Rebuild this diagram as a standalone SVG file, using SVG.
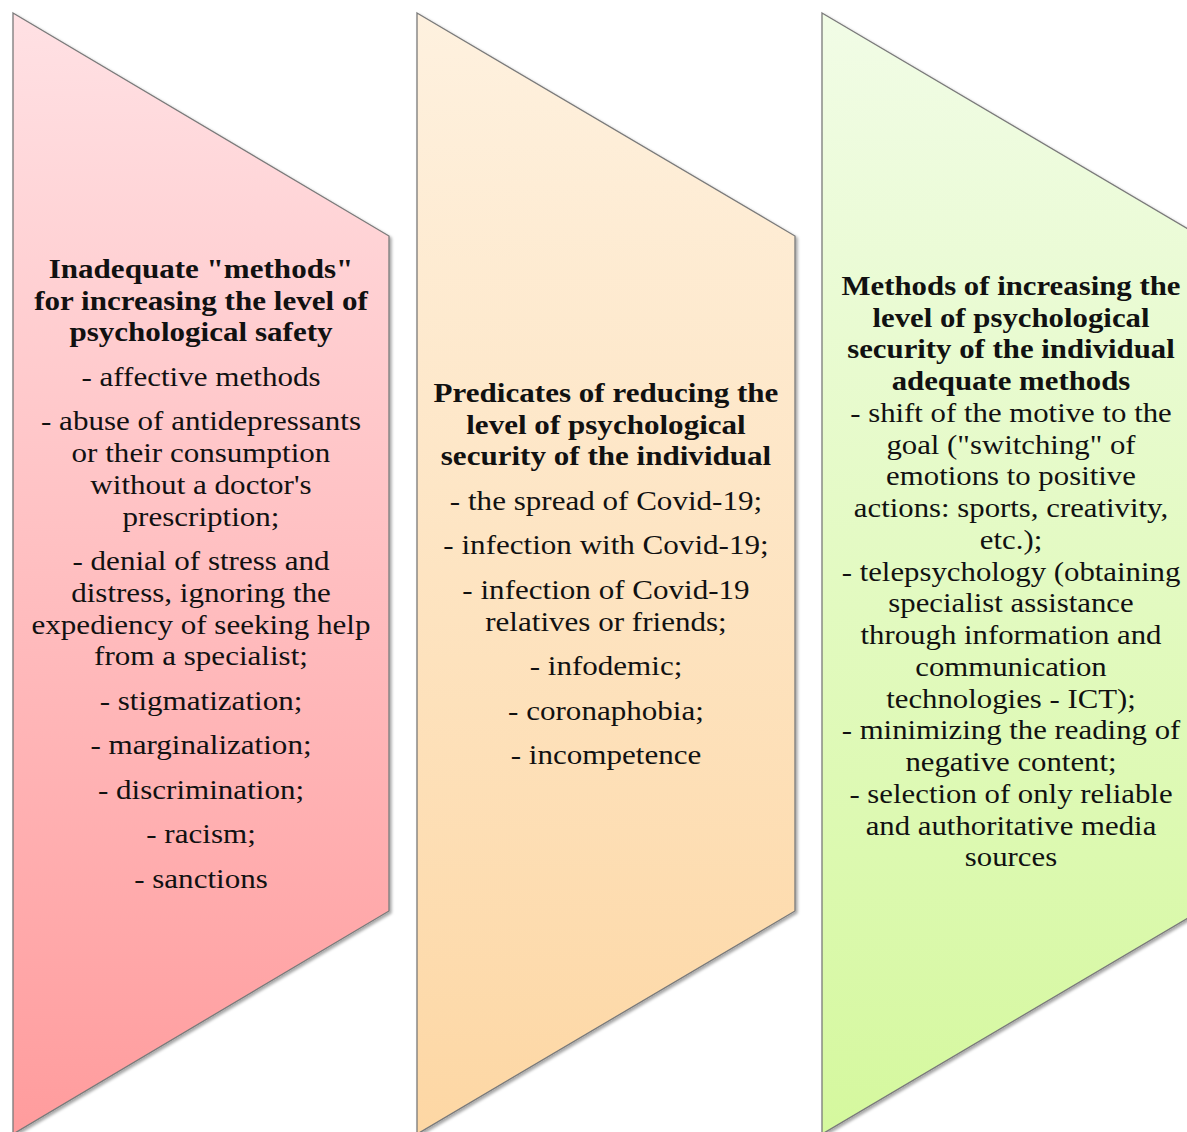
<svg xmlns="http://www.w3.org/2000/svg" width="1187" height="1132" viewBox="0 0 1187 1132">
<defs>
<linearGradient id="gPink" gradientUnits="userSpaceOnUse" x1="0" y1="13" x2="0" y2="1134">
<stop offset="0" stop-color="#FFE1E4"/><stop offset="1" stop-color="#FF9C9D"/>
</linearGradient>
<linearGradient id="gOrange" gradientUnits="userSpaceOnUse" x1="0" y1="13" x2="0" y2="1134">
<stop offset="0" stop-color="#FEF1DF"/><stop offset="1" stop-color="#FDD7A4"/>
</linearGradient>
<linearGradient id="gGreen" gradientUnits="userSpaceOnUse" x1="0" y1="13" x2="0" y2="1134">
<stop offset="0" stop-color="#F1FCE6"/><stop offset="1" stop-color="#D5F89E"/>
</linearGradient>
<filter id="shadow" x="-5%" y="-5%" width="115%" height="115%">
<feDropShadow dx="2" dy="2" stdDeviation="1.5" flood-color="#000" flood-opacity="0.35"/>
</filter>
</defs>
<style>
.shape{stroke:#7a7a7a;stroke-width:1.3;filter:url(#shadow)}
text{font-family:"Liberation Serif","Times New Roman",serif;font-size:27.5px;fill:#111;text-anchor:middle}
.b{font-weight:bold}
</style>
<rect width="1187" height="1132" fill="#fff"/>
<g id="node-inadequate">
<polygon class="shape" fill="url(#gPink)" points="13,13 389,236 389,911 13,1134"/>
<g transform="matrix(1.13,0,0,1,-26.13,0)">
<text x="201" y="278" class="b">Inadequate "methods"</text>
<text x="201" y="309.75" class="b">for increasing the level of</text>
<text x="201" y="341.5" class="b">psychological safety</text>
<text x="201" y="386">- affective methods</text>
<text x="201" y="430.5">- abuse of antidepressants</text>
<text x="201" y="462.25">or their consumption</text>
<text x="201" y="494">without a doctor's</text>
<text x="201" y="525.75">prescription;</text>
<text x="201" y="570.25">- denial of stress and</text>
<text x="201" y="602">distress, ignoring the</text>
<text x="201" y="633.75">expediency of seeking help</text>
<text x="201" y="665.5">from a specialist;</text>
<text x="201" y="710">- stigmatization;</text>
<text x="201" y="754.5">- marginalization;</text>
<text x="201" y="799">- discrimination;</text>
<text x="201" y="843.5">- racism;</text>
<text x="201" y="888">- sanctions</text>
</g>
</g>
<g id="node-predicates">
<polygon class="shape" fill="url(#gOrange)" points="417,13 795,236 795,911 417,1134"/>
<g transform="matrix(1.13,0,0,1,-78.78,0)">
<text x="606" y="402" class="b">Predicates of reducing the</text>
<text x="606" y="433.75" class="b">level of psychological</text>
<text x="606" y="465.5" class="b">security of the individual</text>
<text x="606" y="510">- the spread of Covid-19;</text>
<text x="606" y="554.5">- infection with Covid-19;</text>
<text x="606" y="599">- infection of Covid-19</text>
<text x="606" y="630.75">relatives  or friends;</text>
<text x="606" y="675.25">- infodemic;</text>
<text x="606" y="719.75">- coronaphobia;</text>
<text x="606" y="764.25">- incompetence</text>
</g>
</g>
<g id="node-methods">
<polygon class="shape" fill="url(#gGreen)" points="822,13 1200,236 1200,911 822,1134"/>
<g transform="matrix(1.12,0,0,1,-121.32,0)">
<text x="1011" y="295" class="b">Methods of increasing the</text>
<text x="1011" y="326.75" class="b">level of psychological</text>
<text x="1011" y="358.5" class="b">security of the individual</text>
<text x="1011" y="390.25" class="b">adequate methods</text>
<text x="1011" y="422">- shift of the motive to the</text>
<text x="1011" y="453.75">goal ("switching" of</text>
<text x="1011" y="485.5">emotions to positive</text>
<text x="1011" y="517.25">actions: sports, creativity,</text>
<text x="1011" y="549">etc.);</text>
<text x="1011" y="580.75">- telepsychology (obtaining</text>
<text x="1011" y="612.5">specialist assistance</text>
<text x="1011" y="644.25">through information and</text>
<text x="1011" y="676">communication</text>
<text x="1011" y="707.75">technologies - ICT);</text>
<text x="1011" y="739.5">- minimizing the reading of</text>
<text x="1011" y="771.25">negative content;</text>
<text x="1011" y="803">- selection of only reliable</text>
<text x="1011" y="834.75">and authoritative media</text>
<text x="1011" y="866.5">sources</text>
</g>
</g>
</svg>
